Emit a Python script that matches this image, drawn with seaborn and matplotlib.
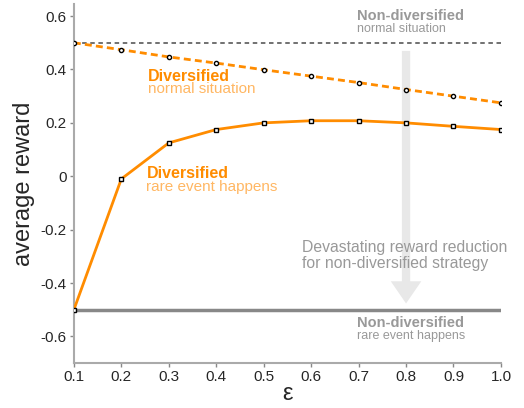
import numpy as np
import pandas as pd
import matplotlib
matplotlib.use('Agg')
import matplotlib.pyplot as plt
import seaborn as sns
from matplotlib.patches import FancyArrowPatch

eps = [0.1, 0.2, 0.3, 0.4, 0.5, 0.6, 0.7, 0.8, 0.9, 1.0]
div_normal = [0.5, 0.474, 0.447, 0.424, 0.399, 0.375, 0.351, 0.325, 0.300, 0.275]
div_rare = [-0.5, -0.01, 0.125, 0.175, 0.200, 0.208, 0.208, 0.200, 0.187, 0.175]
nondiv_normal = 0.5
nondiv_rare = -0.5
ticks_x = [0.1, 0.2, 0.3, 0.4, 0.5, 0.6, 0.7, 0.8, 0.9, 1.0]
ticks_y = [-0.6, -0.4, -0.2, 0, 0.2, 0.4, 0.6]

sns.set_style('white')
plt.rcParams['font.family'] = ['Liberation Sans', 'DejaVu Sans']

orange = '#ff8c00'
light_orange = '#ffb763'
gray_txt = '#999999'

df = pd.DataFrame({'eps': eps, 'normal': div_normal, 'rare': div_rare})

fig = plt.figure(figsize=(5.24, 4.08), dpi=100)
ax = fig.add_axes([0.141, 0.110, 0.815, 0.880])

# arrow for the reward drop
arr = FancyArrowPatch((0.8, 0.48), (0.8, -0.487),
                      arrowstyle='simple,head_length=1.6,head_width=2.2,tail_width=0.6',
                      mutation_scale=10, color='#e8e8e8', lw=0, zorder=1)
ax.add_patch(arr)

ax.axhline(nondiv_normal, color='#666666', ls=(0, (2.5, 2)), lw=1.3, zorder=2)
ax.axhline(nondiv_rare, color='#888888', ls='-', lw=2.5, zorder=2)

sns.lineplot(data=df, x='eps', y='normal', ax=ax, color=orange, lw=2,
             ls=(0, (2.5, 1.5)), marker='o', markersize=3,
             markerfacecolor='white', markeredgecolor='black', markeredgewidth=1, zorder=3)
sns.lineplot(data=df, x='eps', y='rare', ax=ax, color=orange, lw=2,
             marker='s', markersize=3,
             markerfacecolor='white', markeredgecolor='black', markeredgewidth=1, zorder=3)

ax.set_xlim(0.1, 1.0)
ax.set_ylim(-0.7, 0.645)
ax.set_xticks(ticks_x)
ax.set_xticklabels([f'{t:.1f}' for t in ticks_x])
ax.set_yticks(ticks_y)
ax.set_yticklabels(['-0.6', '-0.4', '-0.2', '0', '0.2', '0.4', '0.6'])
ax.tick_params(axis='both', labelsize=11, length=3, width=1, color='#888888', direction='out',
               left=True, bottom=True, pad=2)
ax.set_xlabel('ε', fontsize=17, labelpad=-1)
ax.set_ylabel('average reward', fontsize=17, labelpad=4)
sns.despine(ax=ax)
for s in ['left', 'bottom']:
    ax.spines[s].set_color('#aaaaaa')
    ax.spines[s].set_linewidth(1.5)

ax.text(0.697, 0.600, 'Non-diversified', color=gray_txt, fontsize=10.5, fontweight='bold', va='center')
ax.text(0.697, 0.552, 'normal situation', color=gray_txt, fontsize=9, va='center')
ax.text(0.256, 0.375, 'Diversified', color=orange, fontsize=11.5, fontweight='bold', va='center')
ax.text(0.256, 0.326, 'normal situation', color=light_orange, fontsize=11, va='center')
ax.text(0.253, 0.011, 'Diversified', color=orange, fontsize=11.5, fontweight='bold', va='center')
ax.text(0.253, -0.041, 'rare event happens', color=light_orange, fontsize=11, va='center')
ax.text(0.581, -0.266, 'Devastating reward reduction', color=gray_txt, fontsize=11.3, va='center')
ax.text(0.581, -0.326, 'for non-diversified strategy', color=gray_txt, fontsize=11.3, va='center')
ax.text(0.697, -0.548, 'Non-diversified', color=gray_txt, fontsize=10.5, fontweight='bold', va='center')
ax.text(0.697, -0.597, 'rare event happens', color=gray_txt, fontsize=9, va='center')

fig.savefig('out.png', dpi=100)
